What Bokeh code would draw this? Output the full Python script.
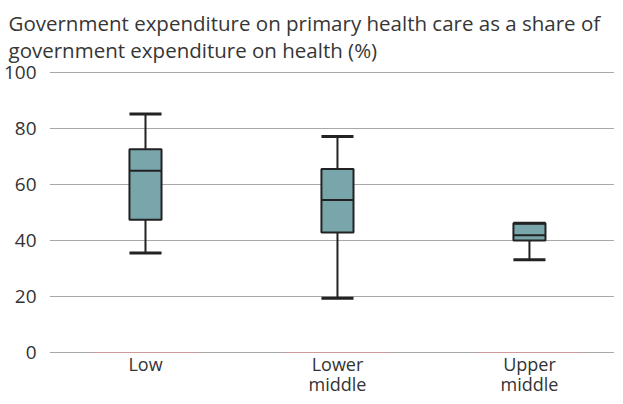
from bokeh.plotting import figure
from bokeh.models import Range1d, FixedTicker, ColumnDataSource
from bokeh.core.properties import value
from bokeh.embed import file_html
from bokeh.resources import INLINE

categories = ["Low", "Lower\nmiddle", "Upper\nmiddle"]
whisker_low = [35.5, 19.4, 33.1]
q1 = [47.4, 42.9, 40.0]
median = [64.9, 54.5, 41.9]
q3 = [72.6, 65.5, 46.2]
whisker_high = [85.2, 77.1, 46.2]
zero_series = [0, 0, 0]
y_ticks = [0, 20, 40, 60, 80, 100]

BOX_W = 0.167
ZERO_W = 0.54
LABEL_Y1 = -4.1
LABEL_Y2 = -11.2
xs = list(range(len(categories)))
line1 = [c.split("\n")[0] for c in categories]
line2 = [c.split("\n")[1] if "\n" in c else "" for c in categories]

src = ColumnDataSource(dict(
    x=xs, lo=whisker_low, q1=q1, med=median, q3=q3, hi=whisker_high, z=zero_series,
    xl=[x - BOX_W / 2 for x in xs], xr=[x + BOX_W / 2 for x in xs],
    zl=[x - ZERO_W / 2 for x in xs], zr=[x + ZERO_W / 2 for x in xs],
    l1=line1, l2=line2,
    y1=[LABEL_Y1] * len(xs), y2=[LABEL_Y2] * len(xs),
))

FONT = "Open Sans"

p = figure(frame_width=565, frame_height=326, output_backend="svg", toolbar_location=None,
           x_range=Range1d(-0.5, 2.443), y_range=Range1d(-15.714, 100.714),
           x_axis_location=None)
p.min_border = 0
p.min_border_left = 42
p.min_border_right = 0
p.min_border_top = 62
p.min_border_bottom = 0

p.title.text = "Government expenditure on primary health care as a share of\ngovernment expenditure on health (%)"
p.title.text_font = FONT
p.title.text_font_size = "20.5px"
p.title.text_font_style = "normal"
p.title.text_color = "#363636"
p.title.text_line_height = 0.95
p.title.align = "left"
p.title.offset = -41
p.title.standoff = 13

p.outline_line_color = None
p.background_fill_color = "white"
p.border_fill_color = "white"

p.xgrid.grid_line_color = None
p.ygrid.grid_line_color = "#a8a8a8"
p.ygrid.grid_line_width = 1.2

p.yaxis.ticker = FixedTicker(ticks=y_ticks)
p.yaxis.axis_line_color = None
p.yaxis.major_tick_line_color = None
p.yaxis.minor_tick_line_color = None
p.yaxis.major_tick_out = 0
p.yaxis.major_tick_in = 0
p.yaxis.minor_tick_out = 0
p.yaxis.minor_tick_in = 0
p.yaxis.major_label_text_font = FONT
p.yaxis.major_label_text_font_size = "19px"
p.yaxis.major_label_text_color = "#333333"
p.yaxis.major_label_standoff = 13

line_col = "#222222"
# faint zero-value marks on the baseline
p.segment("zl", "z", "zr", "z", source=src, line_color="#d09a9a", line_width=1.2)
# whisker stems
p.segment("x", "q3", "x", "hi", source=src, line_color=line_col, line_width=2)
p.segment("x", "lo", "x", "q1", source=src, line_color=line_col, line_width=2)
# boxes
p.quad(left="xl", right="xr", bottom="q1", top="q3", source=src,
       fill_color="#78a6ab", line_color=line_col, line_width=2)
# median
p.segment("xl", "med", "xr", "med", source=src, line_color=line_col, line_width=2)
# caps
p.segment("xl", "hi", "xr", "hi", source=src, line_color=line_col, line_width=3)
p.segment("xl", "lo", "xr", "lo", source=src, line_color=line_col, line_width=3)

# category labels
for col, ycol in (("l1", "y1"), ("l2", "y2")):
    p.text(x="x", y=ycol, text=col, source=src, text_font=value(FONT),
           text_font_size="18px", text_color="#333333",
           text_align="center", text_baseline="middle")

open("out.html", "w").write(file_html(p, INLINE))
